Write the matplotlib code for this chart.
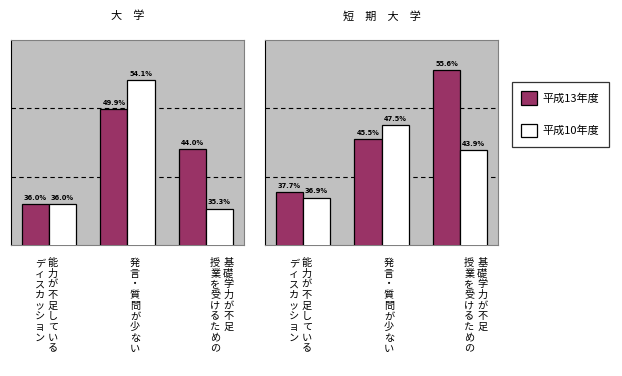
import numpy as np
import matplotlib
matplotlib.use("Agg")
import matplotlib.pyplot as plt
import matplotlib.transforms as mtransforms

plt.rcParams['font.family'] = ['Noto Sans CJK JP', 'DejaVu Sans']

# data
panels = ['大　学', '短　期　大　学']
series = ['平成13年度', '平成10年度']
# vertical category labels, columns read right to left
categories = [
    ['能力が不足している', 'ディスカッション'],
    ['発言・質問が少ない'],
    ['基礎学力が不足', '授業を受けるための'],
]
univ_h13 = [36.0, 49.9, 44.0]
univ_h10 = [36.0, 54.1, 35.3]
junior_h13 = [37.7, 45.5, 55.6]
junior_h10 = [36.9, 47.5, 43.9]

red = '#993366'
bg = '#c0c0c0'
W, H = 622, 376

fig = plt.figure(figsize=(W / 100, H / 100), dpi=100)
fig.patch.set_facecolor('white')

ax_rects = [(11, 40, 233, 205), (265, 40, 233, 205)]
data = [(univ_h13, univ_h10), (junior_h13, junior_h10)]
label_shift = [-0.035, 0.095, 0.2]
bw = 0.344

handles = None
for (px, py, pw, ph), title, (v13, v10) in zip(ax_rects, panels, data):
    ax = fig.add_axes([px / W, 1 - (py + ph) / H, pw / W, ph / H])
    ax.set_facecolor(bg)
    x = np.arange(len(categories))
    b1 = ax.bar(x - bw / 2, v13, bw, color=red, edgecolor='black', lw=0.9, zorder=3, label=series[0])
    b2 = ax.bar(x + bw / 2, v10, bw, color='white', edgecolor='black', lw=0.9, zorder=3, label=series[1])
    handles = [b1, b2]
    for yv in (40, 50):
        ax.axhline(yv, color='black', lw=0.8, ls=(0, (4, 3)), zorder=1)
    ax.set_ylim(30, 60)
    ax.set_xlim(-0.484, 2.484)
    ax.set_xticks([])
    ax.set_yticks([])
    for s in ax.spines.values():
        s.set_color('#808080')
        s.set_linewidth(0.8)
    ax.spines['left'].set_color('black')

    for bars, vals in ((b1, v13), (b2, v10)):
        for rect, v in zip(bars, vals):
            ax.annotate(f'{v:.1f}%', (rect.get_x() + rect.get_width() / 2, v),
                        xytext=(0, 2.5), textcoords='offset points',
                        ha='center', va='bottom', fontsize=4.8, fontweight='bold',
                        family='DejaVu Sans')

    ax.text(0.5, (40 - 16) / ph + 1, title, transform=ax.transAxes,
            ha='center', va='center', fontsize=8)

    # vertical category text, one character at a time
    trans = mtransforms.blended_transform_factory(ax.transData, ax.transAxes)
    for i, cols in enumerate(categories):
        xc = i + label_shift[i]
        ncol = len(cols)
        for j, col in enumerate(cols):
            dx = (ncol - 1) * 13 / 2 - j * 13
            for k, ch in enumerate(col):
                ax.annotate(ch, (xc, 0), xycoords=trans,
                            xytext=(dx * 0.72, -(18 + k * 10.7) * 0.72),
                            textcoords='offset points',
                            ha='center', va='center', fontsize=7.3, annotation_clip=False)

leg = fig.legend(handles=handles, labels=series, loc='upper left',
                 bbox_to_anchor=(512 / W, 1 - 82 / H), fontsize=8,
                 frameon=True, fancybox=False, edgecolor='black',
                 handlelength=1.44, handleheight=1.44, labelspacing=1.75,
                 borderpad=0.85, handletextpad=0.45, borderaxespad=0)
leg.get_frame().set_linewidth(0.9)

fig.savefig('out.png', dpi=100)
